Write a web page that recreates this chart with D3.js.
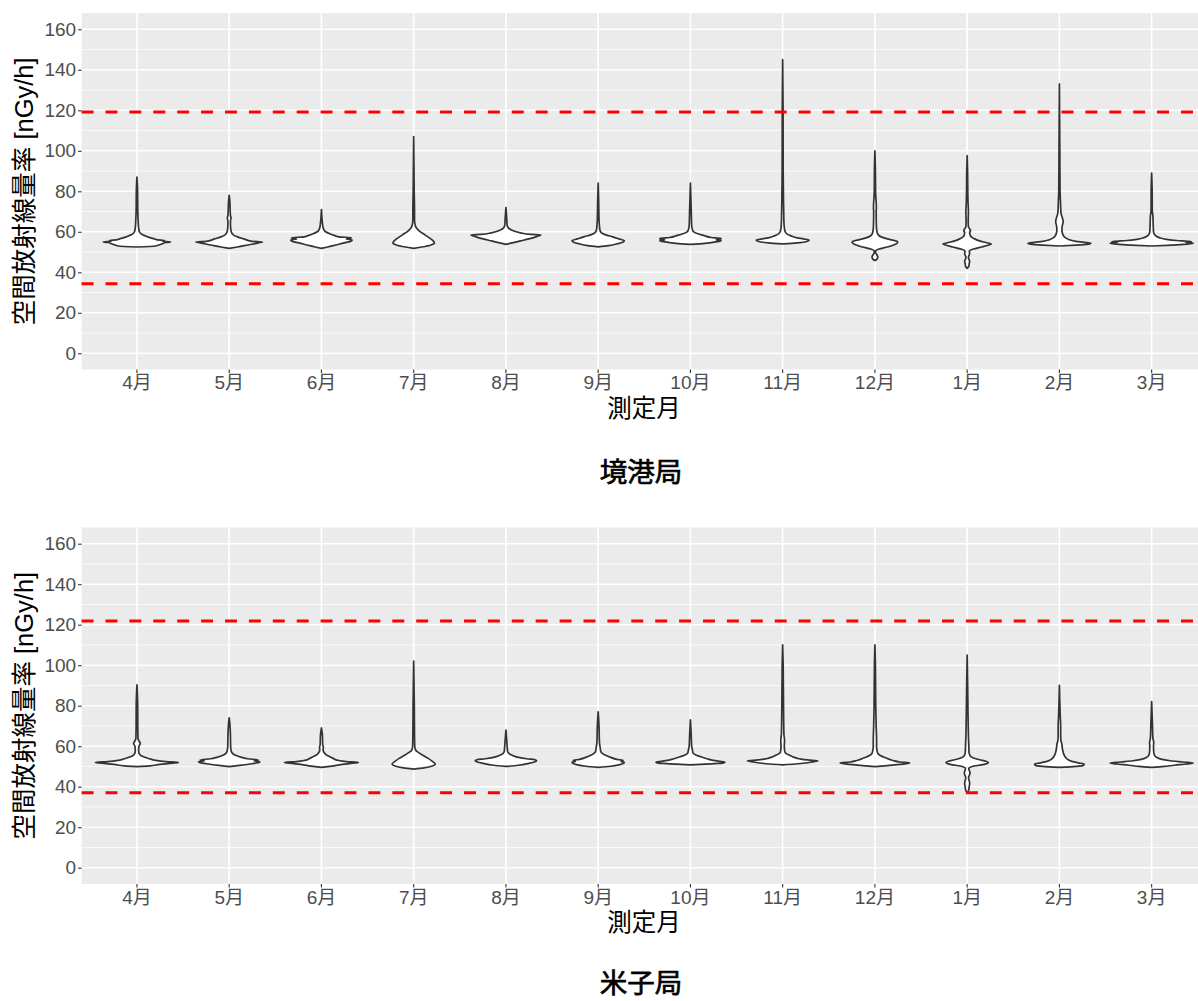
<!DOCTYPE html>
<html>
<head>
<meta charset="utf-8">
<script src="https://cdn.jsdelivr.net/npm/d3@7"></script>
<style>
  html, body { margin: 0; padding: 0; background: #ffffff; }
  svg { display: block; }
  text { font-family: "Liberation Sans", "Noto Sans CJK JP", sans-serif; }
</style>
</head>
<body>
<svg id="chart" width="1198" height="1001"></svg>
<script>
// Measurement months (fiscal year order)
const months = ["4月", "5月", "6月", "7月", "8月", "9月", "10月", "11月", "12月", "1月", "2月", "3月"];
const yTicks = [0, 20, 40, 60, 80, 100, 120, 140, 160];
const yMinor = [10, 30, 50, 70, 90, 110, 130, 150];

// Reference levels (lower / upper) per station [nGy/h]
const sakaiLimits = [34.3, 119.2];
const yonagoLimits = [37.0, 121.8];

// Kernel density profiles per month: [dose rate, relative density (1 = widest)]
const sakaiDensity = [
  [[52.5,0],[53,0.45],[54,0.6],[54.7,0.7],[55,0.81],[55.3,0.62],[55.7,0.66],[56,0.5],[56.5,0.42],[57,0.33],[58,0.2],[59,0.1],[60,0.06],[62,0.04],[65,0.03],[70,0.02],[80,0.015],[87,0]],
  [[51.8,0],[52.5,0.2],[53.5,0.45],[54.5,0.7],[54.8,0.76],[55,0.8],[55.3,0.55],[56.5,0.35],[57.5,0.2],[58.5,0.1],[60,0.05],[62,0.035],[65,0.03],[67,0.045],[68,0.03],[70,0.025],[75,0.015],[78,0]],
  [[51.8,0],[52.5,0.15],[53.5,0.35],[54.5,0.55],[55.5,0.72],[56,0.74],[56.4,0.6],[56.8,0.7],[57.1,0.72],[57.5,0.42],[58,0.34],[59,0.2],[60,0.1],[61,0.06],[62,0.04],[65,0.02],[71,0]],
  [[51.8,0],[52.5,0.2],[53.5,0.42],[54.3,0.5],[55.5,0.47],[57,0.38],[58.5,0.27],[60,0.16],[61.5,0.08],[63,0.04],[66,0.02],[70,0.02],[80,0.012],[107,0]],
  [[53.8,0],[54.5,0.15],[55.5,0.35],[56.5,0.55],[57.5,0.72],[58.1,0.8],[58.4,0.84],[58.7,0.6],[59.5,0.35],[60.5,0.18],[61.5,0.08],[63,0.03],[66,0.02],[72,0]],
  [[52.6,0],[53.2,0.25],[54,0.45],[55,0.6],[55.6,0.63],[56.5,0.5],[57.5,0.35],[58.5,0.18],[59.5,0.08],[61,0.04],[63,0.03],[66,0.02],[75,0.012],[84,0]],
  [[53.8,0],[54.3,0.35],[55,0.6],[55.6,0.74],[56,0.62],[56.5,0.74],[56.8,0.72],[57.2,0.5],[58,0.35],[59,0.18],[60,0.08],[61,0.05],[63,0.03],[70,0.02],[84,0]],
  [[54,0],[54.5,0.35],[55.2,0.58],[55.9,0.64],[56.5,0.5],[57,0.35],[58,0.2],[59,0.1],[60,0.06],[62,0.04],[65,0.03],[70,0.025],[75,0.02],[90,0.012],[120,0.01],[145,0]],
  [[45.8,0],[46.5,0.05],[47.5,0.07],[48.5,0.05],[49.5,0.02],[50.5,0.015],[51.5,0.1],[52.5,0.3],[53.5,0.45],[54.5,0.54],[55.1,0.55],[55.8,0.45],[56.5,0.3],[57.5,0.15],[58.5,0.08],[60,0.05],[63,0.035],[70,0.03],[72,0.035],[80,0.015],[90,0.012],[100,0]],
  [[42,0],[43,0.04],[44.5,0.05],[45.5,0.06],[46.5,0.04],[47.5,0.03],[48.5,0.05],[49.5,0.06],[50.5,0.05],[51.5,0.15],[52.5,0.35],[53.5,0.52],[54,0.58],[54.7,0.45],[55.5,0.3],[56.5,0.18],[57.5,0.1],[58.5,0.07],[59.5,0.06],[60.5,0.08],[61.5,0.06],[62.5,0.03],[65,0.025],[70,0.03],[75,0.02],[80,0.015],[90,0.01],[97.6,0]],
  [[53,0],[53.4,0.4],[53.9,0.7],[54.3,0.76],[54.8,0.6],[55.3,0.4],[56,0.25],[57,0.15],[58,0.1],[59.5,0.07],[61,0.06],[63,0.07],[65,0.09],[67,0.07],[69,0.04],[72,0.03],[75,0.025],[80,0.015],[100,0.01],[133,0]],
  [[53,0],[53.4,0.5],[53.9,0.85],[54.2,0.95],[54.4,1.0],[54.7,0.82],[55,0.96],[55.3,0.9],[55.7,0.6],[56.3,0.35],[57,0.2],[58,0.1],[59,0.06],[60,0.045],[62,0.04],[65,0.035],[68,0.03],[70,0.015],[80,0.012],[89,0]]
];

const yonagoDensity = [
  [[49.9,0],[50.3,0.3],[51,0.55],[51.6,0.85],[52,1.0],[52.4,0.7],[53,0.45],[53.8,0.3],[54.5,0.2],[55.3,0.1],[56.5,0.05],[58,0.04],[60,0.05],[61.5,0.08],[62.5,0.05],[64,0.025],[70,0.02],[80,0.018],[90.3,0]],
  [[49.9,0],[50.5,0.25],[51.2,0.5],[51.9,0.7],[52.3,0.74],[52.8,0.6],[53.2,0.7],[53.8,0.45],[54.5,0.3],[55.5,0.15],[56.5,0.08],[57.5,0.05],[60,0.035],[65,0.03],[70,0.02],[74,0]],
  [[49.5,0],[50.2,0.25],[51,0.5],[51.6,0.75],[52,0.89],[52.4,0.6],[53,0.4],[54,0.28],[55,0.18],[56,0.1],[57,0.06],[58,0.04],[59.5,0.045],[61,0.03],[65,0.025],[69,0]],
  [[48.7,0],[49.3,0.25],[50.2,0.45],[51.2,0.52],[52.5,0.45],[54,0.35],[55.5,0.22],[56.8,0.12],[58,0.05],[60,0.025],[65,0.02],[80,0.015],[102,0]],
  [[50,0],[50.6,0.3],[51.5,0.55],[52.3,0.7],[52.8,0.74],[53.3,0.7],[53.8,0.5],[54.5,0.3],[55.5,0.15],[56.5,0.07],[57.5,0.04],[60,0.03],[68,0]],
  [[49.5,0],[50.1,0.3],[50.8,0.5],[51.5,0.6],[52,0.63],[52.5,0.55],[53,0.6],[53.5,0.45],[54.5,0.3],[55.5,0.18],[56.5,0.1],[57.5,0.06],[59,0.05],[62,0.03],[70,0.02],[77,0]],
  [[50.8,0],[51.1,0.35],[51.5,0.65],[51.8,0.8],[52.1,0.83],[52.5,0.7],[53,0.55],[53.8,0.4],[54.8,0.25],[55.8,0.12],[56.8,0.06],[58,0.05],[60,0.03],[65,0.02],[73,0]],
  [[50.8,0],[51.2,0.3],[51.7,0.55],[52.2,0.7],[52.8,0.85],[53.2,0.6],[53.8,0.4],[54.5,0.28],[55.5,0.17],[56.5,0.08],[57.5,0.05],[60,0.04],[63,0.045],[66,0.03],[80,0.02],[100,0.012],[110,0]],
  [[49.9,0],[50.4,0.3],[51,0.6],[51.7,0.84],[52.2,0.6],[52.8,0.45],[53.5,0.35],[54.5,0.22],[55.5,0.12],[56.5,0.07],[58,0.05],[60,0.04],[63,0.04],[70,0.03],[80,0.02],[100,0.012],[110,0]],
  [[37,0],[38,0.03],[40,0.05],[42,0.06],[43.5,0.04],[44.6,0.035],[46,0.06],[47,0.07],[48,0.05],[49,0.04],[50,0.12],[50.8,0.35],[51.5,0.48],[52,0.51],[52.6,0.45],[53.3,0.3],[54.2,0.15],[55.3,0.07],[57,0.045],[60,0.04],[65,0.03],[70,0.025],[80,0.018],[90,0.012],[105,0]],
  [[49.5,0],[50,0.4],[50.6,0.58],[51.2,0.6],[51.8,0.45],[52.5,0.3],[53.5,0.2],[55,0.13],[57,0.09],[59,0.07],[61,0.06],[63,0.035],[66,0.03],[70,0.03],[75,0.02],[90,0]],
  [[49.5,0],[50,0.3],[50.6,0.55],[51.2,0.85],[51.7,1.0],[52.2,0.75],[52.8,0.45],[53.5,0.25],[54.5,0.12],[55.5,0.07],[57,0.05],[60,0.045],[62,0.05],[64,0.03],[70,0.02],[82,0]]
];

const svg = d3.select("#chart");
const labelFont = "'Liberation Sans', 'Noto Sans CJK JP', sans-serif";

function drawPanel(top, density, limits, station, titleOffset) {
  const left = 81.6, right = 1207;
  const bottom = top + 356.4;

  const x = d3.scaleBand().domain(months).range([left, right]).paddingInner(0).paddingOuter(0.1);
  const y = d3.scaleLinear().domain([-8, 168]).range([bottom, top]);
  const half = x.bandwidth() * 0.45;
  const cx = m => x(m) + x.bandwidth() / 2;

  const g = svg.append("g");

  // panel background
  g.append("rect").attr("x", left).attr("y", top)
    .attr("width", right - left).attr("height", bottom - top)
    .attr("fill", "#EBEBEB");

  // grid lines
  g.selectAll(".minor").data(yMinor).join("line")
    .attr("x1", left).attr("x2", right)
    .attr("y1", d => y(d)).attr("y2", d => y(d))
    .attr("stroke", "#ffffff").attr("stroke-width", 0.8);
  g.selectAll(".major").data(yTicks).join("line")
    .attr("x1", left).attr("x2", right)
    .attr("y1", d => y(d)).attr("y2", d => y(d))
    .attr("stroke", "#ffffff").attr("stroke-width", 1.6);
  g.selectAll(".vmajor").data(months).join("line")
    .attr("x1", d => cx(d)).attr("x2", d => cx(d))
    .attr("y1", top).attr("y2", bottom)
    .attr("stroke", "#ffffff").attr("stroke-width", 1.6);

  // violins
  months.forEach((m, i) => {
    const area = d3.area()
      .y(d => y(d[0]))
      .x0(d => cx(m) - d[1] * half)
      .x1(d => cx(m) + d[1] * half)
      .curve(d3.curveMonotoneY);
    g.append("path")
      .datum(density[i])
      .attr("d", area)
      .attr("fill", "#ffffff")
      .attr("stroke", "#333333")
      .attr("stroke-width", 1.7)
      .attr("stroke-linejoin", "round");
  });

  // reference levels
  g.selectAll(".limit").data(limits).join("line")
    .attr("x1", left).attr("x2", right)
    .attr("y1", d => y(d)).attr("y2", d => y(d))
    .attr("stroke", "#FF0000").attr("stroke-width", 3)
    .attr("stroke-dasharray", "11.95,11.95");

  // y axis
  const yAxis = g.append("g").attr("transform", `translate(${left},0)`)
    .call(d3.axisLeft(y).tickValues(yTicks).tickSize(3.5).tickPadding(2));
  yAxis.select(".domain").remove();
  yAxis.selectAll(".tick line").attr("stroke", "#333333").attr("stroke-width", 1.1);
  yAxis.selectAll(".tick text").attr("fill", "#4D4D4D")
    .style("font-size", "19px").style("font-family", labelFont);

  // x axis
  const xAxis = g.append("g").attr("transform", `translate(0,${bottom})`)
    .call(d3.axisBottom(x).tickSize(3.5).tickPadding(3));
  xAxis.select(".domain").remove();
  xAxis.selectAll(".tick line").attr("stroke", "#333333").attr("stroke-width", 1.1);
  xAxis.selectAll(".tick text").attr("fill", "#4D4D4D")
    .style("font-size", "19px").style("font-family", labelFont);

  // axis titles
  g.append("text")
    .attr("transform", `translate(33,${(top + bottom) / 2}) rotate(-90)`)
    .attr("text-anchor", "middle")
    .attr("fill", "#000000")
    .style("font-size", "25.5px")
    .text("空間放射線量率 [nGy/h]");
  g.append("text")
    .attr("x", 644).attr("y", bottom + 47)
    .attr("text-anchor", "middle")
    .attr("fill", "#000000")
    .style("font-size", "24.5px")
    .text("測定月");

  // station name
  g.append("text")
    .attr("x", 641).attr("y", bottom + titleOffset)
    .attr("text-anchor", "middle")
    .attr("fill", "#000000")
    .attr("stroke", "#000000").attr("stroke-width", 0.7)
    .style("font-size", "27.5px")
    .style("font-family", "'Noto Sans CJK JP', sans-serif")
    .text(station);
}

drawPanel(13.1, sakaiDensity, sakaiLimits, "境港局", 112.5);
drawPanel(527.5, yonagoDensity, yonagoLimits, "米子局", 109.5);
</script>
</body>
</html>
